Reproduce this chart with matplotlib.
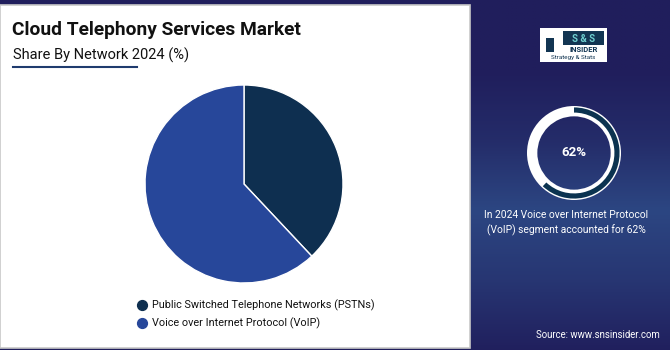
import numpy as np
import matplotlib.pyplot as plt
from matplotlib.patches import Rectangle
from matplotlib.colors import LinearSegmentedColormap

plt.rcParams['font.family'] = ['Roboto', 'DejaVu Sans']

title = 'Cloud Telephony Services Market'
subtitle = 'Share By Network 2024 (%)'
segments = ['Public Switched Telephone Networks (PSTNs)', 'Voice over Internet Protocol (VoIP)']
shares = [38, 62]
seg_colors = ['#0e2f50', '#27479a']
highlight = 62
note = 'In 2024 Voice over Internet Protocol\n(VoIP) segment accounted for 62%'
source = 'Source: www.snsinsider.com'

W, H = 670, 350
navy = '#201e5c'
fig = plt.figure(figsize=(W / 100, H / 100), dpi=100)
fig.patch.set_facecolor(navy)

# full-figure canvas in pixel coords
bg = fig.add_axes([0, 0, 1, 1])
bg.axis('off')

# right side gradient
stops = [0.0, 0.0, 0.35, 1.0, 0.6, 0.05]
cmap = LinearSegmentedColormap.from_list('g', [navy, '#2c4682'])
bg.imshow(np.interp(np.linspace(0, 5, 200), np.arange(6), stops)[:, None],
          extent=(470, W, H, 0), cmap=cmap, aspect='auto', vmin=0, vmax=1)
bg.set_xlim(0, W)
bg.set_ylim(H, 0)

# white panel
bg.add_patch(Rectangle((0, 5), 470, 343, facecolor='white', edgecolor='#c8c8c8', lw=1.2))

bg.text(12, 35, title, fontsize=13.8, fontweight='bold', color='#111111', va='baseline')
bg.text(13, 60, subtitle, fontsize=10.5, color='#111111', va='baseline')
bg.plot([13, 137], [67, 67], color='#1f3b6e', lw=1.5)

# legend
for i, (lab, c) in enumerate(zip(segments, seg_colors)):
    y = 305 + 18 * i
    bg.scatter([142], [y], s=50, color=c)
    bg.text(152, y, lab, fontsize=7.8, color='#111111', va='center')

# logo
bg.add_patch(Rectangle((540, 28), 67, 34, facecolor='white', edgecolor='none'))
bg.add_patch(Rectangle((563, 31), 41, 14, facecolor='#123552', edgecolor='none'))
bg.text(583.5, 38.5, 'S & S', fontsize=7, fontweight='bold', color='#6fd0d0', ha='center', va='center')
bg.text(583.5, 49.5, 'INSIDER', fontsize=5.5, fontweight='bold', color='#123552', ha='center', va='center')
bg.text(573.5, 57.5, 'Strategy & Stats', fontsize=4.5, color='#123552', ha='center', va='center')
bg.add_patch(Rectangle((546, 38), 8, 14, facecolor='#123552', edgecolor='none'))

bg.text(566, 223, note, fontsize=7.4, color='white', ha='center', va='center', linespacing=1.55)
bg.text(598, 335, source, fontsize=6.9, color='white', ha='center', va='center')

# main pie
cx, cy, r = 244, 184, 99
pax = fig.add_axes([(cx - r) / W, (H - cy - r) / H, 2 * r / W, 2 * r / H])
pax.pie(shares, colors=seg_colors, startangle=90, counterclock=False,
        wedgeprops=dict(edgecolor='white', linewidth=1))
pax.set_xlim(-1, 1)
pax.set_ylim(-1, 1)

# donut
dx, dy, dr = 574, 153, 47
dax = fig.add_axes([(dx - dr) / W, (H - dy - dr) / H, 2 * dr / W, 2 * dr / H])
dax.pie([100], colors=['white'], radius=1.0, wedgeprops=dict(width=0.22))
dax.pie([highlight, 100 - highlight], colors=['#0b3350', 'none'], radius=0.97,
        startangle=90, counterclock=False, wedgeprops=dict(width=0.11))
dax.text(0, 0, f'{highlight}%', fontsize=9.5, fontweight='bold', color='white', ha='center', va='center')
dax.set_xlim(-1, 1)
dax.set_ylim(-1, 1)

fig.savefig('out.png', dpi=100, facecolor=navy)
